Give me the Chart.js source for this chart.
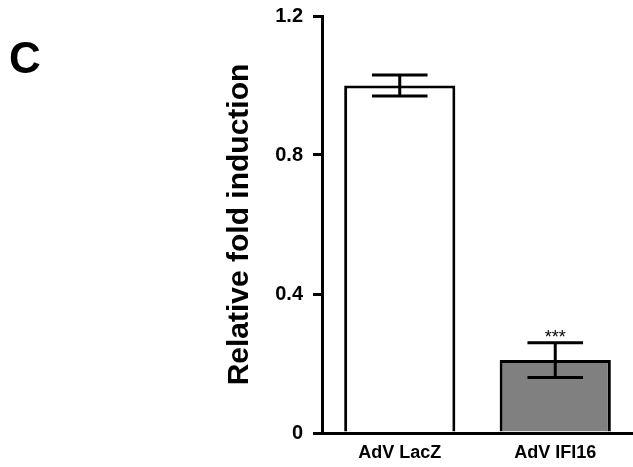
<!DOCTYPE html>
<html>
<head>
<meta charset="utf-8">
<script src="https://cdn.jsdelivr.net/npm/chart.js@4.4.0/dist/chart.umd.min.js"></script>
<style>
  body { margin: 0; background: #fff; }
  #wrap { position: relative; width: 633px; height: 467px; }
  #chart { display: block; }
  #panel {
    position: absolute; left: 9px; top: 36px;
    font: bold 44px "Liberation Sans", Arial, sans-serif; line-height: 1;
  }
</style>
</head>
<body>
<div id="wrap">
  <canvas id="chart" width="633" height="467"></canvas>
  <div id="panel">C</div>
</div>
<script>
// data
const categories = ['AdV LacZ', 'AdV IFI16'];
const values = [1.0, 0.21];
const errors = [0.03, 0.05];
const marks = ['', '***'];
const yTicks = [0, 0.4, 0.8, 1.2];

const FONT = '"Liberation Sans", Arial, sans-serif';

// SEM whiskers + significance stars
const errorBars = {
    id: 'errorBars',
    afterDatasetsDraw(chart) {
        const ctx = chart.ctx;
        const y = chart.scales.y;
        const meta = chart.getDatasetMeta(0);
        ctx.save();
        ctx.strokeStyle = '#000';
        ctx.lineWidth = 3;
        meta.data.forEach((bar, i) => {
            const top = y.getPixelForValue(values[i] + errors[i]);
            const bottom = y.getPixelForValue(values[i] - errors[i]);
            const cap = bar.width * 0.25;
            ctx.beginPath();
            ctx.moveTo(bar.x, top); ctx.lineTo(bar.x, bottom);
            ctx.moveTo(bar.x - cap, top); ctx.lineTo(bar.x + cap, top);
            ctx.moveTo(bar.x - cap, bottom); ctx.lineTo(bar.x + cap, bottom);
            ctx.stroke();
            if (marks[i]) {
                ctx.fillStyle = '#000';
                ctx.font = '18px ' + FONT;
                ctx.textAlign = 'center';
                ctx.textBaseline = 'alphabetic';
                ctx.fillText(marks[i], bar.x, top);
            }
        });
        ctx.restore();
    }
};

new Chart(document.getElementById('chart'), {
    type: 'bar',
    data: {
        labels: categories,
        datasets: [{
            data: values,
            backgroundColor: ['#ffffff', '#808080'],
            borderColor: '#000',
            borderWidth: 3,
            categoryPercentage: 1,
            barPercentage: 0.715
        }]
    },
    options: {
        responsive: false,
        animation: false,
        layout: { padding: { left: 222, top: 16, right: 0, bottom: 0 } },
        plugins: {
            legend: { display: false },
            tooltip: { enabled: false }
        },
        scales: {
            x: {
                z: 1,
                grid: { drawOnChartArea: false, drawTicks: false },
                border: { color: '#000', width: 3 },
                ticks: {
                    color: '#000',
                    padding: 9,
                    font: { family: FONT, size: 18, weight: 'bold' }
                },
                afterFit: (scale) => { scale.height = 34; }
            },
            y: {
                min: 0,
                max: 1.2,
                afterBuildTicks: (scale) => { scale.ticks = yTicks.map(v => ({ value: v })); },
                grid: { drawOnChartArea: false, color: '#000', lineWidth: 3, tickLength: 9 },
                border: { color: '#000', width: 3 },
                ticks: {
                    color: '#000',
                    padding: 10,
                    font: { family: FONT, size: 20, weight: 'bold' }
                },
                title: {
                    display: true,
                    text: 'Relative fold induction',
                    color: '#000',
                    padding: 0,
                    font: { family: FONT, size: 30, weight: 'bold' }
                },
                afterFit: (scale) => {
                    scale.width = 100;
                    scale.paddingTop = 0;
                    scale.paddingBottom = 0;
                }
            }
        }
    },
    plugins: [errorBars]
});
</script>
</body>
</html>
